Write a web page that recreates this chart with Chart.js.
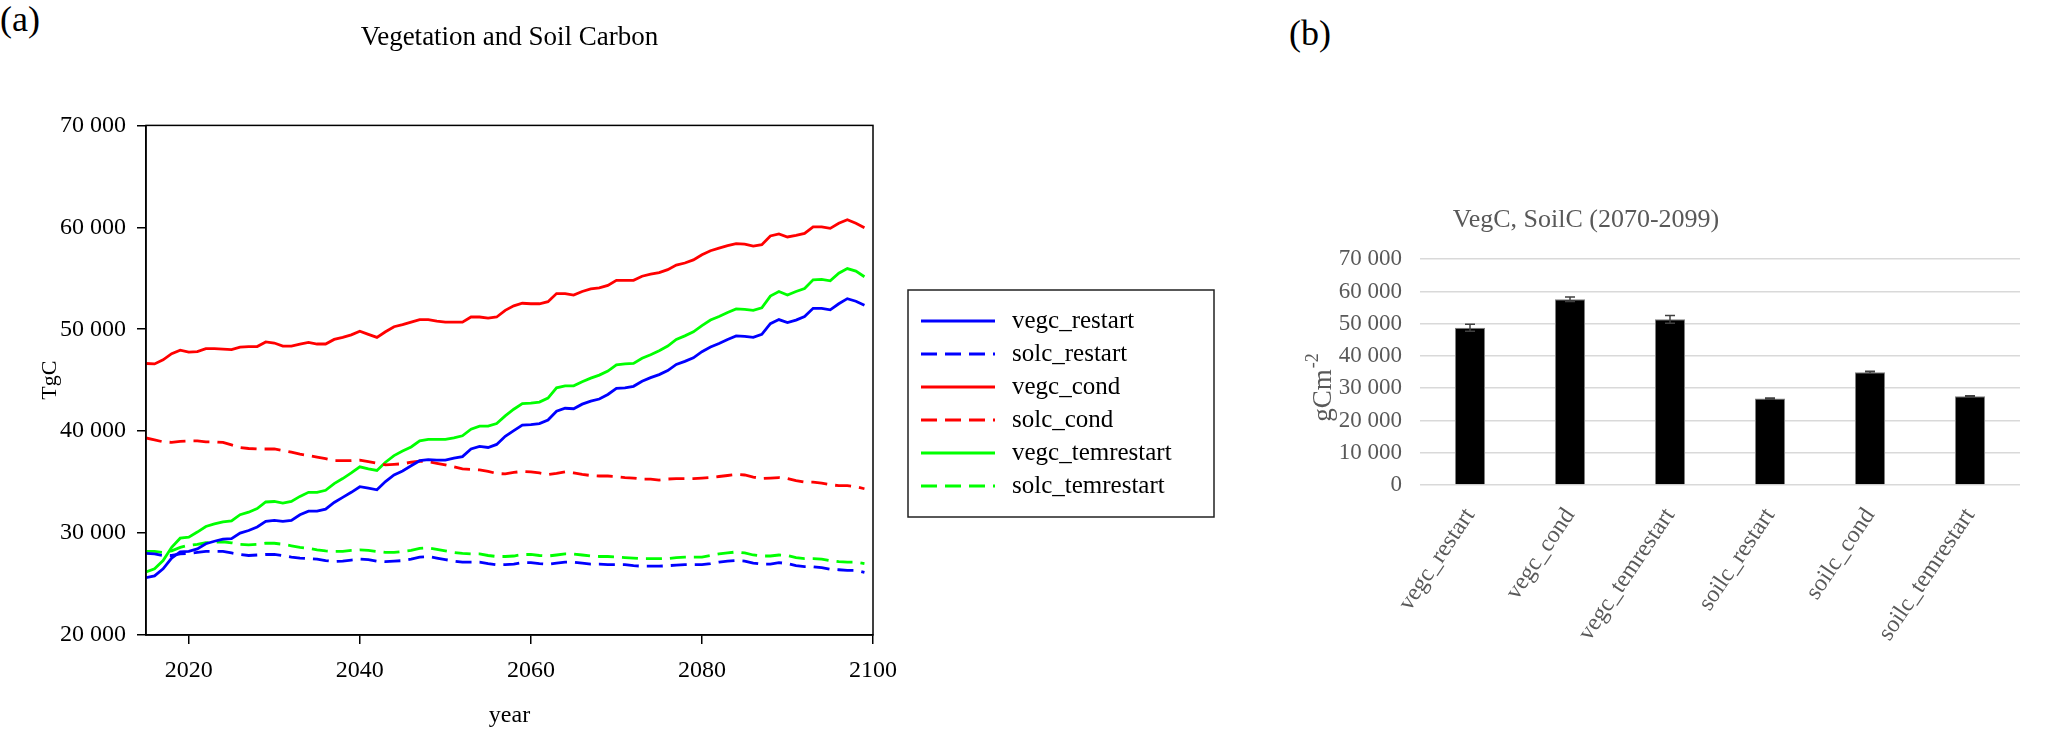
<!DOCTYPE html>
<html>
<head>
<meta charset="utf-8">
<script src="https://cdn.jsdelivr.net/npm/chart.js@4.4.1/dist/chart.umd.min.js"></script>
<style>
html, body { margin: 0; padding: 0; background: #fff; overflow: hidden; width: 2067px; height: 730px; }
.panel { position: absolute; top: 0; }
.tag { position: absolute; font-family: "Liberation Serif", "Times New Roman", serif; font-size: 36px; color: #000; line-height: 1; }
</style>
</head>
<body>
<div class="tag" style="left:0px; top:1px">(a)</div>
<div class="tag" style="left:1289px; top:15px">(b)</div>
<div class="panel" style="left:0px"><canvas id="lineChart" width="1260" height="730"></canvas></div>
<div class="panel" style="left:1152px"><canvas id="barChart" width="888" height="730"></canvas></div>
<script>
// Годы (ось X панели a)
const years = [
    2015, 2016, 2017, 2018, 2019, 2020, 2021, 2022, 2023, 2024,
    2025, 2026, 2027, 2028, 2029, 2030, 2031, 2032, 2033, 2034,
    2035, 2036, 2037, 2038, 2039, 2040, 2041, 2042, 2043, 2044,
    2045, 2046, 2047, 2048, 2049, 2050, 2051, 2052, 2053, 2054,
    2055, 2056, 2057, 2058, 2059, 2060, 2061, 2062, 2063, 2064,
    2065, 2066, 2067, 2068, 2069, 2070, 2071, 2072, 2073, 2074,
    2075, 2076, 2077, 2078, 2079, 2080, 2081, 2082, 2083, 2084,
    2085, 2086, 2087, 2088, 2089, 2090, 2091, 2092, 2093, 2094,
    2095, 2096, 2097, 2098, 2099
];

// Ряды данных, TgC
const vegcRestart = [
    25630, 25800, 26500, 27550, 28150, 28200, 28450, 28950, 29200, 29400,
    29450, 30000, 30250, 30600, 31150, 31250, 31150, 31250, 31800, 32150,
    32150, 32350, 33000, 33500, 34000, 34550, 34400, 34250, 35050, 35700,
    36100, 36600, 37100, 37200, 37150, 37150, 37350, 37500, 38250, 38500,
    38400, 38700, 39500, 40050, 40600, 40650, 40750, 41100, 41950, 42250,
    42200, 42650, 42950, 43150, 43600, 44200, 44250, 44400, 44900, 45250,
    45550, 45950, 46550, 46850, 47200, 47800, 48250, 48600, 49000, 49350,
    49300, 49200, 49500, 50550, 50950, 50650, 50900, 51250, 52050, 52050,
    51900, 52500, 53000, 52750, 52350
];
const solcRestart = [
    28000, 27950, 27800, 27800, 27950, 28000, 28100, 28200, 28200, 28200,
    28050, 27900, 27800, 27850, 27900, 27900, 27800, 27650, 27550, 27500,
    27450, 27300, 27200, 27250, 27350, 27450, 27400, 27250, 27200, 27250,
    27300, 27450, 27650, 27700, 27550, 27400, 27250, 27150, 27150, 27150,
    27000, 26900, 26900, 26950, 27100, 27100, 27000, 26950, 27050, 27150,
    27150, 27050, 26950, 26950, 26900, 26900, 26900, 26800, 26750, 26750,
    26750, 26800, 26850, 26900, 26900, 26900, 27000, 27150, 27250, 27300,
    27250, 27050, 26950, 26950, 27100, 27000, 26800, 26700, 26700, 26600,
    26450, 26400, 26350, 26350, 26150
];
const vegcCond = [
    46640, 46600, 47000, 47600, 47950, 47750, 47800, 48100, 48100, 48050,
    48000, 48250, 48300, 48300, 48750, 48650, 48350, 48350, 48550, 48700,
    48550, 48550, 49000, 49200, 49450, 49800, 49500, 49200, 49750, 50250,
    50450, 50700, 50950, 50950, 50800, 50700, 50700, 50700, 51200, 51200,
    51100, 51200, 51850, 52300, 52550, 52500, 52500, 52700, 53500, 53500,
    53350, 53700, 53950, 54050, 54300, 54800, 54800, 54800, 55200, 55400,
    55550, 55850, 56300, 56500, 56800, 57300, 57700, 57950, 58200, 58400,
    58350, 58150, 58300, 59150, 59350, 59050, 59200, 59400, 60050, 60050,
    59900, 60400, 60750, 60400, 59950
];
const solcCond = [
    39330, 39150, 38950, 38900, 39000, 39050, 39050, 38950, 38950, 38900,
    38650, 38400, 38300, 38250, 38250, 38250, 38100, 37950, 37750, 37600,
    37450, 37300, 37100, 37100, 37100, 37150, 37000, 36850, 36700, 36750,
    36800, 36950, 37050, 37000, 36850, 36700, 36500, 36300, 36250, 36200,
    36050, 35850, 35800, 35950, 36050, 36000, 35900, 35750, 35850, 36000,
    35900, 35750, 35650, 35600, 35600, 35550, 35450, 35400, 35300, 35300,
    35200, 35300, 35350, 35350, 35350, 35400, 35450, 35550, 35650, 35750,
    35700, 35500, 35350, 35400, 35450, 35350, 35150, 35000, 35000, 34900,
    34750, 34650, 34650, 34550, 34350
];
const vegcTemrestart = [
    26180, 26500, 27300, 28600, 29500, 29600, 30100, 30650, 30900, 31100,
    31200, 31800, 32050, 32400, 33050, 33100, 32950, 33100, 33600, 34000,
    34000, 34200, 34850, 35350, 35900, 36500, 36300, 36150, 36950, 37600,
    38050, 38450, 39050, 39200, 39200, 39200, 39350, 39550, 40200, 40500,
    40500, 40750, 41500, 42150, 42700, 42750, 42850, 43250, 44250, 44450,
    44450, 44850, 45200, 45500, 45900, 46500, 46600, 46650, 47150, 47500,
    47900, 48350, 49000, 49350, 49750, 50350, 50900, 51250, 51650, 52000,
    51950, 51850, 52100, 53250, 53700, 53350, 53700, 54000, 54850, 54900,
    54750, 55500, 55950, 55700, 55150
];
const solcTemrestart = [
    28200, 28200, 28100, 28250, 28600, 28800, 28900, 29050, 29100, 29150,
    29050, 28900, 28850, 28900, 29000, 29000, 28900, 28750, 28600, 28500,
    28350, 28250, 28200, 28200, 28300, 28350, 28300, 28200, 28100, 28100,
    28200, 28300, 28500, 28550, 28400, 28250, 28100, 28000, 27950, 27950,
    27800, 27700, 27700, 27750, 27900, 27900, 27800, 27750, 27850, 27950,
    27950, 27850, 27750, 27700, 27700, 27650, 27600, 27550, 27500, 27500,
    27500, 27500, 27600, 27650, 27650, 27650, 27800, 27950, 28050, 28150,
    28050, 27850, 27750, 27750, 27850, 27800, 27600, 27500, 27500, 27450,
    27300, 27200, 27150, 27150, 27000
];

// Деления осей панели a
const xTicksA = [2020, 2040, 2060, 2080, 2100];
const yTicksA = [20000, 30000, 40000, 50000, 60000, 70000];

// Данные панели b (средние за 2070-2099, gCm-2)
const barLabels = ['vegc_restart', 'vegc_cond', 'vegc_temrestart', 'soilc_restart', 'soilc_cond', 'soilc_temrestart'];
const barMeans = [48750, 57600, 51350, 26800, 34950, 27500];
const barErrors = [1050, 700, 1200, 200, 300, 200];
const yTicksB = [0, 10000, 20000, 30000, 40000, 50000, 60000, 70000];

const serif = "'Liberation Serif', 'Times New Roman', serif";
Chart.defaults.font.family = serif;

// Формат чисел с пробелом между тысячами
function formatThousands(value) {
    return String(value).replace(/\B(?=(\d{3})+(?!\d))/g, ' ');
}

function toPoints(values) {
    return years.map((yr, i) => ({ x: yr, y: values[i] }));
}

// Рамка вокруг области графика
const framePlugin = {
    id: 'frame',
    afterDraw(chart) {
        const { ctx, chartArea } = chart;
        ctx.save();
        ctx.strokeStyle = '#000';
        ctx.lineWidth = 1.5;
        ctx.strokeRect(chartArea.left, chartArea.top, chartArea.right - chartArea.left, chartArea.bottom - chartArea.top);
        ctx.restore();
    }
};

// Легенда в рамке справа
const boxLegendPlugin = {
    id: 'boxLegend',
    afterDraw(chart, args, opts) {
        const ctx = chart.ctx;
        ctx.save();
        ctx.strokeStyle = '#222';
        ctx.lineWidth = 1.5;
        ctx.strokeRect(opts.x, opts.y, opts.w, opts.h);
        ctx.font = opts.fontSize + 'px ' + serif;
        ctx.textBaseline = 'middle';
        ctx.textAlign = 'left';
        chart.data.datasets.forEach(function(ds, i) {
            const cy = opts.firstRow + i * opts.rowGap;
            ctx.beginPath();
            ctx.setLineDash(ds.borderDash || []);
            ctx.strokeStyle = ds.borderColor;
            ctx.lineWidth = ds.borderWidth;
            ctx.moveTo(opts.lineStart, cy);
            ctx.lineTo(opts.lineEnd, cy);
            ctx.stroke();
            ctx.setLineDash([]);
            ctx.fillStyle = '#000';
            ctx.fillText(ds.label, opts.textX, cy);
        });
        ctx.restore();
    }
};

// Планки погрешностей
const errorBarPlugin = {
    id: 'errorBars',
    afterDatasetsDraw(chart, args, opts) {
        const ctx = chart.ctx;
        const yScale = chart.scales.y;
        const meta = chart.getDatasetMeta(0);
        const values = chart.data.datasets[0].data;
        ctx.save();
        ctx.strokeStyle = '#404040';
        ctx.lineWidth = 1.5;
        meta.data.forEach(function(bar, i) {
            const top = yScale.getPixelForValue(values[i] + opts.errors[i]);
            const bottom = yScale.getPixelForValue(values[i] - opts.errors[i]);
            const cap = 5;
            ctx.beginPath();
            ctx.moveTo(bar.x, top);
            ctx.lineTo(bar.x, bottom);
            ctx.moveTo(bar.x - cap, top);
            ctx.lineTo(bar.x + cap, top);
            ctx.moveTo(bar.x - cap, bottom);
            ctx.lineTo(bar.x + cap, bottom);
            ctx.stroke();
        });
        ctx.restore();
    }
};

// Подпись оси Y панели b с верхним индексом
const unitTitlePlugin = {
    id: 'unitTitle',
    afterDraw(chart, args, opts) {
        const ctx = chart.ctx;
        const mainFont = opts.size + 'px ' + serif;
        const supFont = opts.supSize + 'px ' + serif;
        ctx.save();
        ctx.translate(opts.x, opts.y);
        ctx.rotate(-Math.PI / 2);
        ctx.fillStyle = opts.color;
        ctx.textBaseline = 'middle';
        ctx.textAlign = 'left';
        ctx.font = mainFont;
        const w1 = ctx.measureText(opts.text).width;
        ctx.font = supFont;
        const w2 = ctx.measureText(opts.sup).width;
        const x0 = -(w1 + w2) / 2;
        ctx.font = mainFont;
        ctx.fillText(opts.text, x0, 0);
        ctx.font = supFont;
        ctx.fillText(opts.sup, x0 + w1 + 1, -opts.size * 0.38);
        ctx.restore();
    }
};

function lineDataset(label, values, color, dashed) {
    return {
        label: label,
        data: toPoints(values),
        borderColor: color,
        backgroundColor: color,
        borderWidth: 2.8,
        borderDash: dashed ? [16, 8] : [],
        pointRadius: 0,
        tension: 0,
        fill: false
    };
}

// Панель (a): линии
new Chart(document.getElementById('lineChart'), {
    type: 'line',
    data: {
        datasets: [
            lineDataset('vegc_restart', vegcRestart, '#0000ff', false),
            lineDataset('solc_restart', solcRestart, '#0000ff', true),
            lineDataset('vegc_cond', vegcCond, '#ff0000', false),
            lineDataset('solc_cond', solcCond, '#ff0000', true),
            lineDataset('vegc_temrestart', vegcTemrestart, '#00ff00', false),
            lineDataset('solc_temrestart', solcTemrestart, '#00ff00', true)
        ]
    },
    options: {
        responsive: false,
        animation: false,
        layout: { padding: { left: 0, right: 387, top: 0, bottom: 0 } },
        plugins: {
            legend: { display: false },
            tooltip: { enabled: false },
            title: {
                display: true,
                fullSize: false,
                text: 'Vegetation and Soil Carbon',
                color: '#000',
                font: { size: 27, weight: 'normal' },
                padding: { top: 22, bottom: 71 }
            },
            boxLegend: {
                x: 908, y: 290, w: 306, h: 227,
                firstRow: 321, rowGap: 33,
                lineStart: 921, lineEnd: 995, textX: 1012,
                fontSize: 25
            }
        },
        scales: {
            x: {
                type: 'linear',
                min: 2015,
                max: 2100,
                afterBuildTicks: function(scale) { scale.ticks = xTicksA.map(v => ({ value: v })); },
                afterFit: function(scale) { scale.height = 95; },
                grid: { display: true, drawOnChartArea: false, drawTicks: true, tickLength: 9, color: '#000', lineWidth: 1.5 },
                border: { display: true, color: '#000', width: 1.5 },
                ticks: { color: '#000', font: { size: 24 }, padding: 12, maxRotation: 0, callback: v => String(v) },
                title: { display: true, text: 'year', color: '#000', font: { size: 24 }, padding: { top: 0, bottom: 0 } }
            },
            y: {
                min: 20000,
                max: 70000,
                afterBuildTicks: function(scale) { scale.ticks = yTicksA.map(v => ({ value: v })); },
                afterFit: function(scale) { scale.width = 146; },
                grid: { display: true, drawOnChartArea: false, drawTicks: true, tickLength: 9, color: '#000', lineWidth: 1.5 },
                border: { display: true, color: '#000', width: 1.5 },
                ticks: { color: '#000', font: { size: 24 }, padding: 11, callback: v => formatThousands(v) },
                title: { display: true, text: 'TgC', color: '#000', font: { size: 22 }, padding: { top: 37, bottom: 0 } }
            }
        }
    },
    plugins: [framePlugin, boxLegendPlugin]
});

// Панель (b): столбцы
new Chart(document.getElementById('barChart'), {
    type: 'bar',
    data: {
        labels: barLabels,
        datasets: [{
            data: barMeans,
            backgroundColor: '#000',
            borderColor: '#7f7f7f',
            borderWidth: 1,
            barPercentage: 0.3,
            categoryPercentage: 1
        }]
    },
    options: {
        responsive: false,
        animation: false,
        layout: { padding: { left: 0, right: 20, top: 0, bottom: 0 } },
        plugins: {
            legend: { display: false },
            tooltip: { enabled: false },
            title: {
                display: true,
                text: 'VegC, SoilC (2070-2099)',
                color: '#595959',
                font: { size: 26, weight: 'normal' },
                padding: { top: 205, bottom: 23 }
            },
            errorBars: { errors: barErrors },
            unitTitle: { text: 'gCm', sup: '-2', x: 172, y: 388, size: 27, supSize: 18, color: '#595959' }
        },
        scales: {
            x: {
                afterFit: function(scale) { scale.height = 245; },
                grid: { display: false },
                border: { display: false },
                ticks: { color: '#595959', font: { size: 24 }, minRotation: 56, maxRotation: 56, autoSkip: false, padding: 10 }
            },
            y: {
                min: 0,
                max: 70000,
                afterBuildTicks: function(scale) { scale.ticks = yTicksB.map(v => ({ value: v })); },
                afterFit: function(scale) { scale.width = 268; },
                grid: { color: '#d9d9d9', lineWidth: 1.5, drawTicks: false },
                border: { display: false },
                ticks: { color: '#595959', font: { size: 23 }, padding: 18, autoSkip: false, callback: v => formatThousands(v) }
            }
        }
    },
    plugins: [errorBarPlugin, unitTitlePlugin]
});
</script>
</body>
</html>
